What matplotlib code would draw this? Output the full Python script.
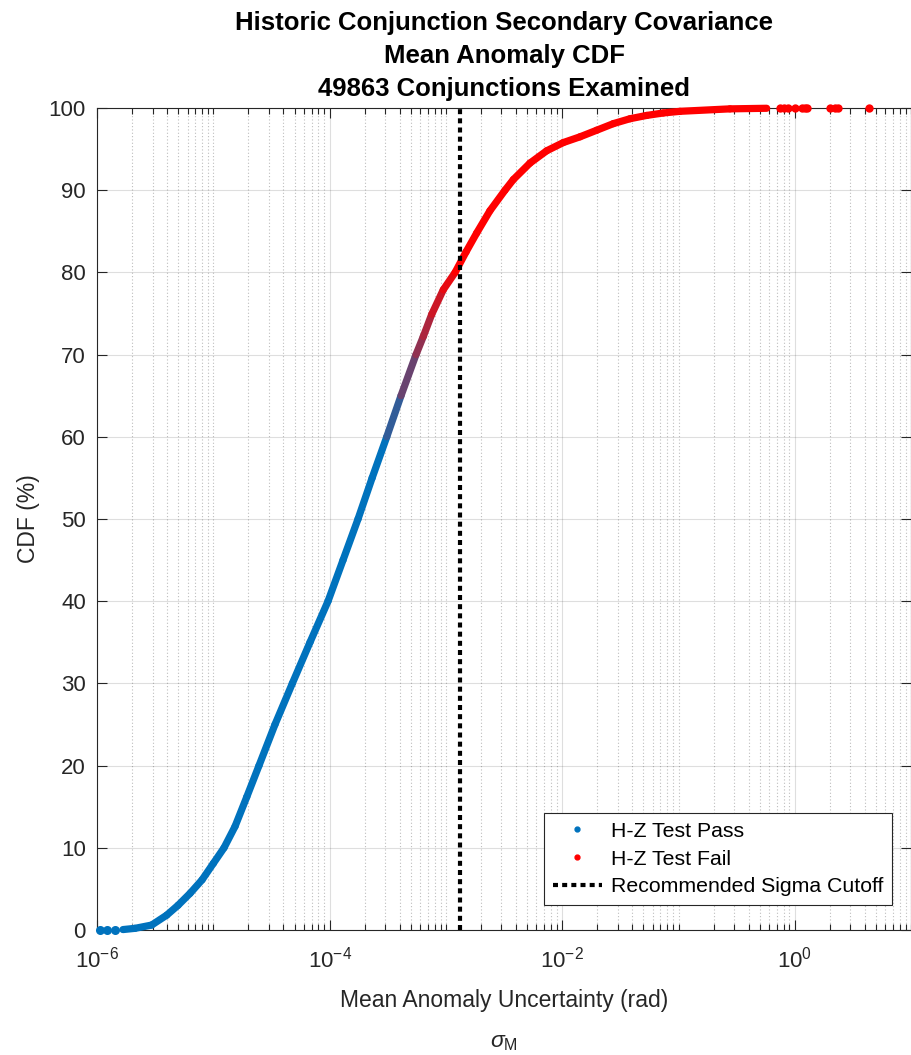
import numpy as np
import matplotlib.pyplot as plt
from matplotlib.collections import LineCollection
from matplotlib.lines import Line2D
from matplotlib.colors import to_rgb
from matplotlib.ticker import FixedLocator, NullLocator, NullFormatter

plt.rcParams['font.family'] = ['Liberation Sans', 'DejaVu Sans']
plt.rcParams['mathtext.fontset'] = 'custom'
plt.rcParams['mathtext.rm'] = 'Liberation Sans'
plt.rcParams['mathtext.it'] = 'Liberation Sans:italic'

# values
start_sigma = [1.06e-6, 1.22e-6, 1.43e-6]
start_cdf = [0.0, 0.0, 0.0]

sigma = [1.67e-6, 2.12e-6, 2.95e-6, 3.97e-6, 4.97e-6, 6.31e-6, 8.0e-6, 1.0e-5,
         1.236e-5, 1.537e-5, 1.94e-5, 2.47e-5, 3.39e-5, 4.78e-5, 6.78e-5, 9.69e-5,
         1.304e-4, 1.755e-4, 2.32e-4, 3.10e-4, 4.11e-4, 5.53e-4, 6.39e-4, 7.55e-4,
         9.50e-4, 1.20e-3, 1.49e-3, 1.84e-3, 2.39e-3, 3.22e-3, 3.80e-3, 5.28e-3,
         7.36e-3, 1.022e-2, 1.423e-2, 1.98e-2, 2.75e-2, 3.83e-2, 5.33e-2, 7.40e-2,
         1.03e-1, 2.77e-1, 5.73e-1]
cdf = [0.05, 0.2, 0.6, 1.8, 3.0, 4.46, 6.1, 8.1,
       10.0, 12.6, 16.2, 20.0, 25.0, 30.0, 35.0, 40.0,
       45.0, 50.0, 55.0, 60.0, 65.0, 70.0, 72.2, 74.9,
       77.9, 80.0, 82.5, 84.8, 87.5, 90.0, 91.3, 93.3,
       94.8, 95.8, 96.5, 97.3, 98.1, 98.7, 99.1, 99.4,
       99.6, 99.9, 99.97]

tail_sigma = [0.746, 0.80, 0.875, 1.0, 1.15, 1.22, 1.28, 2.01, 2.2, 2.35, 4.35]
tail_cdf = [100.0] * len(tail_sigma)

cutoff = 1.32e-3
n_conj = 49863

blue = np.array(to_rgb('#0072BD'))
red = np.array(to_rgb('#FF0000'))

fig = plt.figure(figsize=(9.12, 10.55), dpi=100)
ax = fig.add_axes([0.1064, 0.1185, 0.8926, 0.7791])
ax.set_xscale('log')

# curve, pass -> fail colour blend in the mixed region
pts = np.column_stack([sigma, cdf])
segs = np.stack([pts[:-1], pts[1:]], axis=1)
mid = (np.array(cdf[:-1]) + np.array(cdf[1:])) / 2
w = np.clip((mid - 58) / (81 - 58), 0, 1)[:, None]
cols = (1 - w) * blue + w * red
lc = LineCollection(segs, colors=cols, linewidths=5.2, capstyle='round',
                    joinstyle='round', zorder=3, clip_on=False)
ax.add_collection(lc)
ax.plot(start_sigma, start_cdf, 'o', color=blue, ms=6.5, mec='none', zorder=3, clip_on=False)
ax.plot(tail_sigma, tail_cdf, 'o', color=red, ms=6, mec='none', zorder=3, clip_on=False)

ax.plot([cutoff, cutoff], [0, 100], color='k', lw=3, ls=(0, (1.2, 1.0)), zorder=4)

ax.set_xlim(1e-6, 1e1)
ax.set_ylim(0, 100)
ax.set_xticks([1e-6, 1e-4, 1e-2, 1e0])
minors = [k * 10.0 ** n for n in range(-6, 1) for k in range(1, 10)
          if not (k == 1 and n % 2 == 0)] + [10.0]
ax.xaxis.set_minor_locator(FixedLocator(minors))
ax.xaxis.set_minor_formatter(NullFormatter())
ax.set_yticks(np.arange(0, 101, 10))
ax.yaxis.set_minor_locator(NullLocator())

ax.grid(which='major', color='#262626', alpha=0.15, lw=0.8)
ax.grid(which='minor', axis='x', color='#262626', alpha=0.3, lw=0.8, ls=(0, (1, 2)))
ax.set_axisbelow(True)

ax.tick_params(which='both', direction='in', top=True, right=True,
               color='#262626', labelcolor='#262626', labelsize=16)
ax.tick_params(which='major', length=7, width=0.8)
ax.tick_params(which='minor', length=4, width=0.8)
ax.tick_params(axis='y', pad=8)
ax.tick_params(axis='x', pad=12)
for s in ax.spines.values():
    s.set_color('#262626')
    s.set_linewidth(0.8)

ax.set_xlabel('Mean Anomaly Uncertainty (rad)\n$\\sigma_{\\mathrm{M}}$', fontsize=16.5,
              color='#262626', labelpad=12, linespacing=1.95)
ax.set_ylabel('CDF (%)', fontsize=16.5, color='#262626', labelpad=6)
ax.set_title('Historic Conjunction Secondary Covariance\nMean Anomaly CDF\n'
             f'{n_conj} Conjunctions Examined', fontsize=18.5, fontweight='bold',
             linespacing=1.45, pad=9)

handles = [Line2D([], [], marker='.', ls='none', color=blue, ms=7),
           Line2D([], [], marker='.', ls='none', color=red, ms=7),
           Line2D([], [], color='k', lw=3, ls=(0, (1.2, 1.0)))]
labels = ['H-Z Test Pass', 'H-Z Test Fail', 'Recommended Sigma Cutoff']
leg = ax.legend(handles, labels, loc='lower right', bbox_to_anchor=(0.9767, 0.0304),
                fontsize=15.3, fancybox=False, framealpha=1, edgecolor='#262626',
                handlelength=2.3, handletextpad=0.45, labelspacing=0.42,
                borderpad=0.4, borderaxespad=0)
leg.get_frame().set_linewidth(0.8)

fig.savefig('out.png', dpi=100)
